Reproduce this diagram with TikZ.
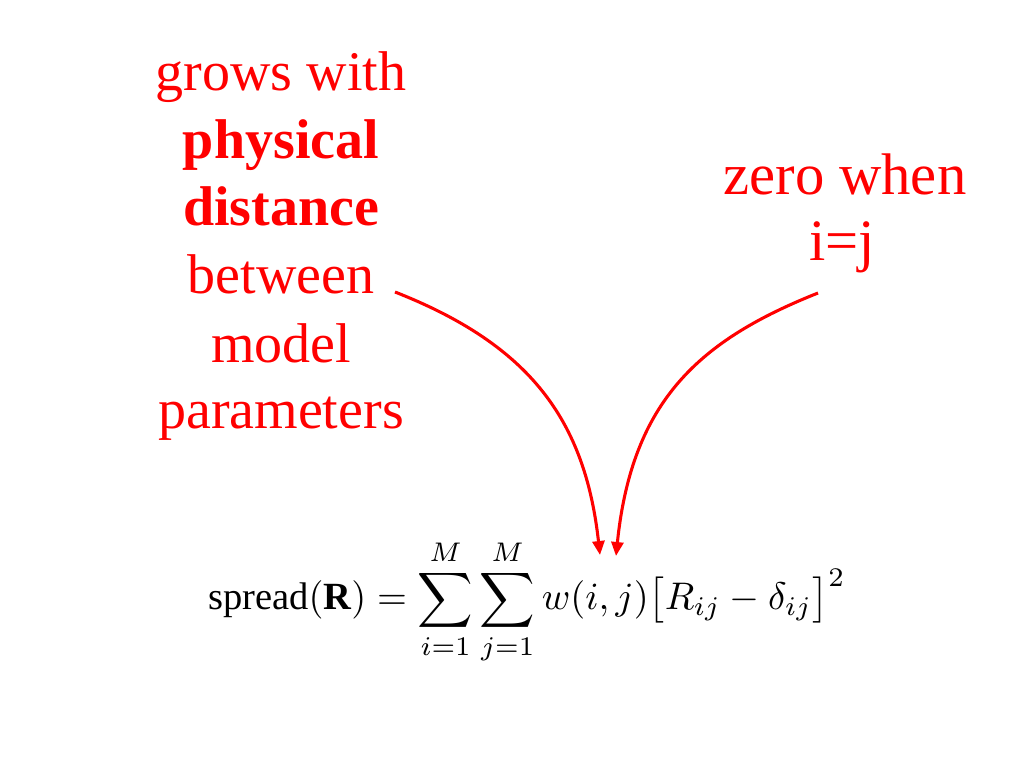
\documentclass[tikz,border=0pt]{standalone}
\usepackage{fontspec}
\setmainfont{Liberation Serif}
\usepackage{amsmath}
\usetikzlibrary{arrows.meta}
\definecolor{lblred}{RGB}{255,0,0}
\tikzset{
  lbl/.style={text=lblred, anchor=base, inner sep=0pt, font=\fontsize{42}{50}\selectfont},
  lblR/.style={text=lblred, anchor=base, inner sep=0pt, font=\fontsize{44}{52}\selectfont},
  pointer/.style={draw=lblred, line width=2.3pt, -{Triangle[length=10.5pt,width=9pt]}}
}
\begin{document}
\begin{tikzpicture}[x=0.75pt,y=-0.75pt]
\useasboundingbox (0,0) rectangle (1024,768);
\node[lbl] (l1) at (281,90) {grows with};
\node[lbl] (l2) at (281,158) {\bfseries physical};
\node[lbl] (l3) at (281,225) {\bfseries distance};
\node[lbl] (l4) at (281,293) {between};
\node[lbl] (l5) at (281,362) {model};
\node[lbl] (l6) at (281,428) {parameters};
\node[lblR] (r1) at (845,194) {zero when};
\node[lblR] (r2) at (842,260) {i=j};
\node[anchor=west, inner sep=0pt] (eq) at (208,602) {\resizebox{478pt}{!}{$\displaystyle \mathrm{spread}(\mathbf{R}) = \sum_{i=1}^{M}\sum_{j=1}^{M} w(i,j)\bigl[R_{ij}-\delta_{ij}\bigr]^2$}};
\coordinate (s1) at (395,292);
\coordinate (t1) at (600,555);
\coordinate (s2) at (818,293);
\coordinate (t2) at (616,556);
\draw[pointer] (s1) .. controls (530,345) and (585,420) .. (t1);
\draw[pointer] (s2) .. controls (700,340) and (632,400) .. (t2);
\end{tikzpicture}
\end{document}
